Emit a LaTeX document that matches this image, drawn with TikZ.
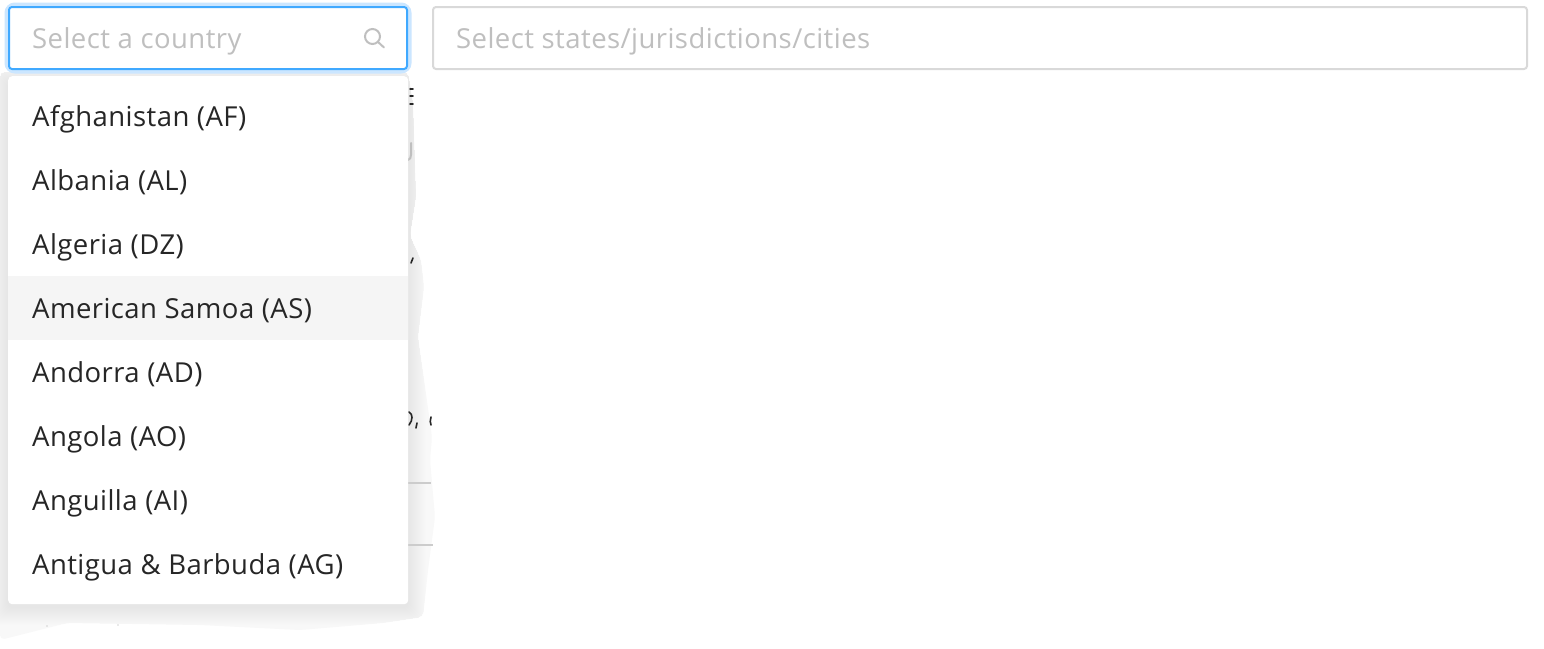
\documentclass[tikz,border=0pt]{standalone}
\usepackage{fontspec}
\setmainfont[LetterSpace=1.6]{Open Sans}
\definecolor{txt}{HTML}{262626}
\definecolor{ph}{HTML}{BFBFBF}
\definecolor{bd}{HTML}{D9D9D9}
\definecolor{rule}{HTML}{CCCCCC}
\definecolor{focus}{HTML}{40A9FF}
\definecolor{glow}{HTML}{CBE6FF}
\definecolor{hover}{HTML}{F5F5F5}
\definecolor{blob}{HTML}{F8F8F8}
\tikzset{
  item/.style={anchor=base west,inner sep=0pt,text=txt,font=\fontsize{27.5}{30}\selectfont},
  hint/.style={anchor=base west,inner sep=0pt,text=ph,font=\fontsize{27.5}{30}\selectfont},
  scrap/.style={line width=2pt,color=#1,line cap=round},
}
\begin{document}
\begin{tikzpicture}[x=1pt,y=-1pt]
\useasboundingbox (0,0) rectangle (1544,648);
\fill[white] (0,0) rectangle (1544,648);
% torn grey backdrop behind the dropdown
\path[save path=\blobpath,rounded corners=5pt] (0,72) -- (408,72) -- (413,103) -- (416,197) -- (410,236) -- (421,260) -- (424,287)
  -- (418,337) -- (425,387) -- (432,437) -- (430,460) -- (435,517) -- (428,570) -- (423,617)
  -- (383,623) -- (300,630) -- (200,625) -- (67,623) -- (0,640) -- cycle;
\fill[blob,use path=\blobpath];
\begin{scope}
\clip[use path=\blobpath];
\foreach \r in {1,...,18}{
  \fill[black,opacity=0.005,rounded corners=6pt] (8-\r,76-\r+6) rectangle (408+\r,604+\r+3);
}
\end{scope}
% scraps of the page behind
\draw[line width=1.2pt,color=rule] (408,483) -- (431,483);
\draw[line width=1.2pt,color=rule] (408,545) -- (433,545);
\draw[scrap=txt,line width=1.5pt] (410,89) -- (413,89) (410,96) -- (413,96) (410,104) -- (413,104);
\draw[scrap=ph] (411,143) -- (411,155) .. controls (411,158) and (410,159) .. (408,160);
\draw[scrap=txt,line width=1.6pt] (413,258) -- (411,263);
\draw[scrap=txt,line width=1.6pt] (409,412) .. controls (413,414) and (413,420) .. (409,425);
\draw[scrap=txt,line width=1.6pt] (417,423) -- (416,428);
\draw[scrap=txt,line width=1.6pt] (431,417) .. controls (430,420) and (430,423) .. (431,425);
\fill[gray!70] (47,626) circle (.7);
\fill[gray!70] (118,625) circle (.7);
% dropdown panel
\node[fill=white,rounded corners=4pt,minimum width=400pt,minimum height=528pt,inner sep=0pt,anchor=north west] (panel) at (8,76) {};
\fill[hover] (8,276) rectangle (408,340);
\node[item] (i1) at (32,126) {Afghanistan (AF)};
\node[item] (i2) at (32,190) {Albania (AL)};
\node[item] (i3) at (32,254) {Algeria (DZ)};
\node[item] (i4) at (32,318) {American Samoa (AS)};
\node[item] (i5) at (32,382) {Andorra (AD)};
\node[item] (i6) at (32,446) {Angola (AO)};
\node[item] (i7) at (32,510) {Anguilla (AI)};
\node[item] (i8) at (32,574) {Antigua \& Barbuda (AG)};
% inputs
\draw[glow,line width=9pt,rounded corners=6pt] (9,7) rectangle (407,69);
\fill[white,rounded corners=3pt] (9,7) rectangle (407,69);
\draw[focus,line width=2pt,rounded corners=3pt] (9,7) rectangle (407,69);
\draw[bd,line width=2pt,rounded corners=3pt] (433,7) rectangle (1527,69);
\node[hint] (h1) at (32,48) {Select a country};
\node[hint] (h2) at (456,48) {Select states/jurisdictions/cities};
\draw[ph,line width=2pt] (372.5,36.5) circle (7.5);
\draw[ph,line width=2pt,line cap=round] (378,42) -- (384,47.5);
\end{tikzpicture}
\end{document}
